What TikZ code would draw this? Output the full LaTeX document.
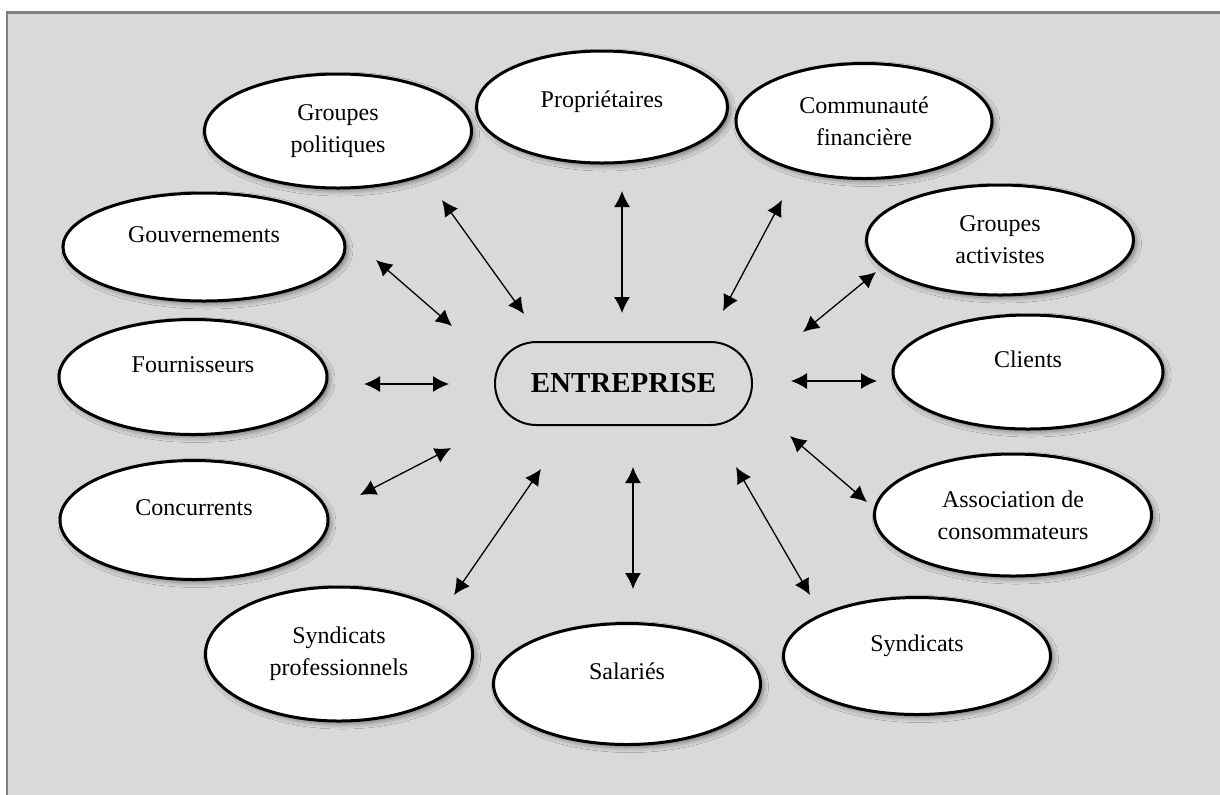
\documentclass[tikz,border=0pt]{standalone}
\usepackage{fontspec}
\setmainfont{Liberation Serif}
\usetikzlibrary{shapes.geometric, arrows.meta, shadows.blur}
\usepackage{xcolor}
\definecolor{mygray}{rgb}{0.851,0.851,0.851}
\definecolor{myframe}{rgb}{0.5,0.5,0.5}

\begin{document}
\begin{tikzpicture}[x=0.5pt,y=-0.5pt,
  stake/.style={ellipse, draw, fill=white, line width=1.5pt, align=center,
    font=\fontsize{12}{16}\selectfont,
    blur shadow={shadow xshift=1.5pt, shadow yshift=-1.5pt, shadow blur radius=2.5pt, shadow opacity=45}},
  oneline/.style={text height=8pt, text depth=13pt},
  link/.style={<->, >={Latex[length=8pt,width=8pt]}, line width=0.65pt}]
  \useasboundingbox (0,0) rectangle (1220,794);
  \fill[mygray] (6,12) rectangle (1230,800);
  \draw[myframe, line width=1.3pt] (7,800) -- (7,12.5) -- (1230,12.5);

  \node[draw, rounded corners=20.75pt, minimum width=128.5pt, minimum height=41.5pt,
    line width=1pt, font=\fontsize{14.5}{17}\selectfont\bfseries] (Ent) at (623.5,383.5) {ENTREPRISE};

  \node[stake, minimum width=133.5pt, minimum height=57pt]          (Gp) at (338,131)  {Groupes\\politiques};
  \node[stake, minimum width=125.5pt, minimum height=56pt,
    text height=8pt, text depth=8pt]                                 (Pr) at (602,107)  {Propriétaires};
  \node[stake, minimum width=128pt, minimum height=57.5pt]          (Cf) at (864,121)  {Communauté\\financière};
  \node[stake, oneline, minimum width=141pt, minimum height=54pt]   (Gv) at (204,247)  {Gouvernements};
  \node[stake, minimum width=133.5pt, minimum height=55pt]          (Ga) at (1000,240) {Groupes\\activistes};
  \node[stake, oneline, minimum width=134pt, minimum height=57.5pt] (Fo) at (193,377)  {Fournisseurs};
  \node[stake, oneline, minimum width=135pt, minimum height=57pt]   (Cl) at (1028,372) {Clients};
  \node[stake, oneline, minimum width=134pt, minimum height=59.5pt] (Co) at (194,520)  {Concurrents};
  \node[stake, minimum width=138.5pt, minimum height=61pt]          (As) at (1013,515) {Association de\\consommateurs};
  \node[stake, minimum width=133.5pt, minimum height=67pt]          (Sp) at (339,654)  {Syndicats\\professionnels};
  \node[stake, oneline, minimum width=133.5pt, minimum height=60.5pt] (Sa) at (627,684) {Salariés};
  \node[stake, oneline, minimum width=133.5pt, minimum height=58.5pt] (Sy) at (917,656) {Syndicats};

  % arrow ends
  \coordinate (Gp-a) at (442,200);  \coordinate (Gp-b) at (524,314);
  \coordinate (Pr-a) at (622,191);  \coordinate (Pr-b) at (622,313);
  \coordinate (Cf-a) at (782,200);  \coordinate (Cf-b) at (723,311);
  \coordinate (Gv-a) at (376,260);  \coordinate (Gv-b) at (452,326);
  \coordinate (Ga-a) at (876,272);  \coordinate (Ga-b) at (803,332);
  \coordinate (Fo-a) at (364,384);  \coordinate (Fo-b) at (449,384);
  \coordinate (Cl-a) at (877,381);  \coordinate (Cl-b) at (791,381);
  \coordinate (Co-a) at (360,495);  \coordinate (Co-b) at (451,448);
  \coordinate (As-a) at (867,502);  \coordinate (As-b) at (790,436);
  \coordinate (Sp-a) at (454,595);  \coordinate (Sp-b) at (541,469);
  \coordinate (Sa-a) at (633,589);  \coordinate (Sa-b) at (633,467);
  \coordinate (Sy-a) at (810,595);  \coordinate (Sy-b) at (736,467);

  \draw[link] (Gp-a) -- (Gp-b);
  \draw[link] (Pr-a) -- (Pr-b);
  \draw[link] (Cf-a) -- (Cf-b);
  \draw[link] (Gv-a) -- (Gv-b);
  \draw[link] (Ga-a) -- (Ga-b);
  \draw[link] (Fo-a) -- (Fo-b);
  \draw[link] (Cl-a) -- (Cl-b);
  \draw[link] (Co-a) -- (Co-b);
  \draw[link] (As-a) -- (As-b);
  \draw[link] (Sp-a) -- (Sp-b);
  \draw[link] (Sa-a) -- (Sa-b);
  \draw[link] (Sy-a) -- (Sy-b);
\end{tikzpicture}
\end{document}
